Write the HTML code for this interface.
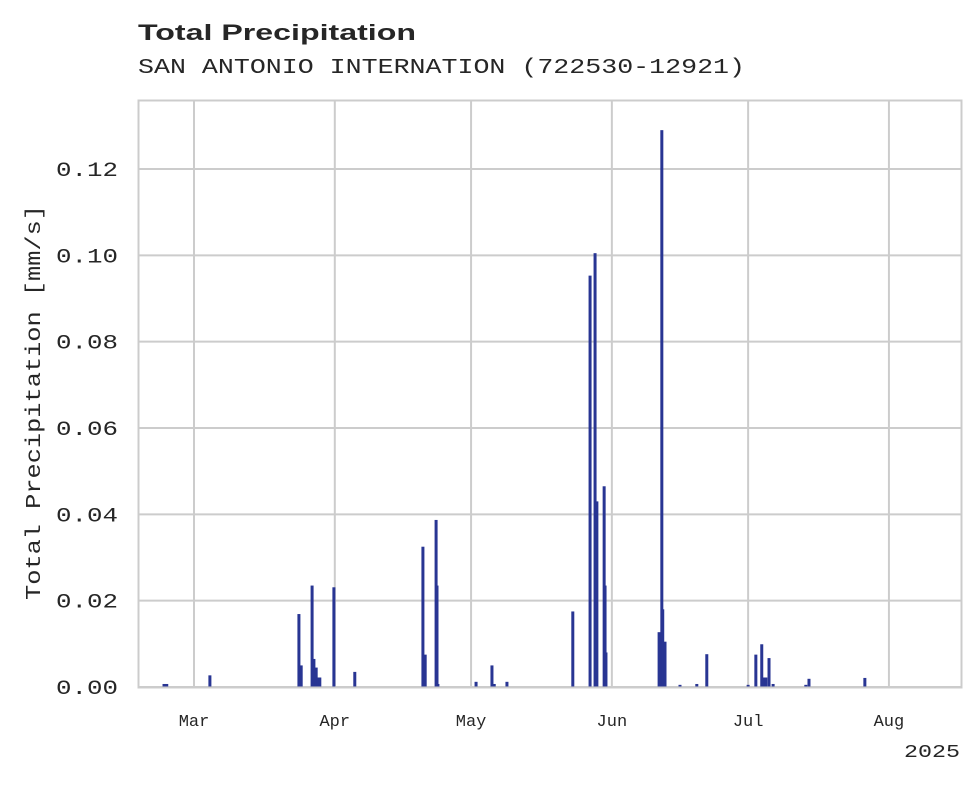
<!DOCTYPE html>
<html><head><meta charset="utf-8"><style>
body{margin:0;background:#fff;}
svg text{font-family:"Liberation Mono",monospace;fill:#262626;}
</style></head><body>
<svg id="chart" width="980" height="783">
<text x="138" y="40" textLength="278" lengthAdjust="spacingAndGlyphs" style="font-family:'Liberation Sans',sans-serif;font-weight:bold;font-size:22px">Total Precipitation</text>
<text x="138" y="73" textLength="607" lengthAdjust="spacingAndGlyphs" style="font-size:21px">SAN ANTONIO INTERNATION (722530-12921)</text>
<g id="grid"></g>
<g id="bars"></g>
<rect x="138.5" y="100.5" width="823" height="587" fill="none" stroke="#cccccc" stroke-width="2"/>
<g id="axes"></g>
<text x="40" y="600" transform="rotate(-90 40 600)" textLength="395" lengthAdjust="spacingAndGlyphs" style="font-size:21px">Total Precipitation [mm/s]</text>
<text x="960" y="757" text-anchor="end" textLength="56" lengthAdjust="spacingAndGlyphs" style="font-size:18px">2025</text>
</svg>
<script>
// days offset from Mar 1, 2025
const barDays=[-6.6,-6.0,3.5,23.1,23.6,26.0,26.4,26.9,27.3,27.7,30.8,35.4,50.4,50.9,53.3,53.5,53.7,62.1,65.6,66.1,68.9,83.4,87.2,88.3,88.7,90.3,90.5,90.7,102.4,103.0,103.2,103.7,107.0,110.7,112.9,122.0,123.7,125.0,125.4,125.9,126.6,127.5,134.7,135.4,147.7];
const barValues=[0.0007,0.0007,0.0027,0.0169,0.005,0.0235,0.0065,0.0045,0.0022,0.0022,0.0231,0.0035,0.0325,0.0075,0.0387,0.0235,0.0007,0.0012,0.005,0.0007,0.0012,0.0175,0.0953,0.1005,0.043,0.0465,0.0235,0.008,0.0127,0.129,0.018,0.0105,0.0005,0.0007,0.0076,0.0005,0.0075,0.0099,0.0022,0.0022,0.0067,0.0007,0.0005,0.0019,0.0021];
const yTicks=[0,0.02,0.04,0.06,0.08,0.10,0.12];
const yTickLabels=["0.00","0.02","0.04","0.06","0.08","0.10","0.12"];
const monthDays=[0,31,61,92,122,153];
const monthLabels=["Mar","Apr","May","Jun","Jul","Aug"];
const NS="http://www.w3.org/2000/svg";
const xS=d=>194+d*4.542;
const yS=v=>687-v*(518/0.12);
const grid=document.getElementById('grid'),bars=document.getElementById('bars'),axes=document.getElementById('axes');
function mk(tag,attrs,parent){const e=document.createElementNS(NS,tag);for(const k in attrs)e.setAttribute(k,attrs[k]);parent.appendChild(e);return e;}
yTicks.forEach((t,i)=>{
 const y=yS(t);
 const l=mk('line',{x1:138,x2:962,y1:y,y2:y,stroke:'#cccccc','stroke-width':2},grid);
 
 
 const tx=mk('text',{x:56,y:y+7,'font-size':20,textLength:62,lengthAdjust:'spacingAndGlyphs'},axes);
 tx.textContent=yTickLabels[i];
 
 
});
monthDays.forEach((d,i)=>{
 const x=xS(d);
 const l=mk('line',{x1:x,x2:x,y1:100,y2:687,stroke:'#cccccc','stroke-width':2},grid);
 
 
 const tx=mk('text',{x:x,y:726,'text-anchor':'middle','font-size':17},axes);
 tx.textContent=monthLabels[i];
 
 
});
barDays.forEach((d,i)=>{
 const x=xS(d),y=yS(barValues[i]);
 const r=mk('rect',{x:x-1.5,y:y,width:3,height:687-y,fill:'#283593'},bars);
 
 
});
</script>
</body></html>
